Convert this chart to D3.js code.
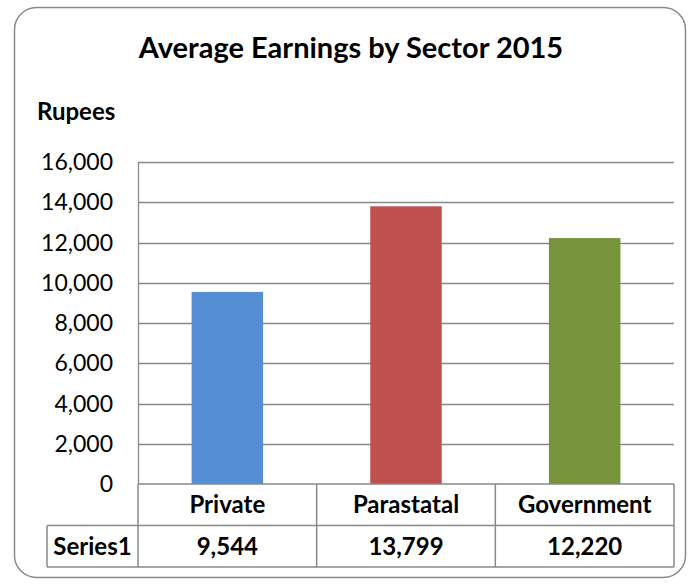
<!DOCTYPE html>
<html>
<head>
<meta charset="utf-8">
<script src="https://cdn.jsdelivr.net/npm/d3@7"></script>
<style>
  html, body { margin: 0; padding: 0; background: #fff; }
  #chart { width: 689px; height: 585px; }
  text { font-family: Lato, "Open Sans", sans-serif; fill: #000; }
</style>
</head>
<body>
<div id="chart"></div>
<script>
// data
const categories = ["Private", "Parastatal", "Government"];
const values = [9544, 13799, 12220];
const seriesName = "Series1";
const barColors = ["#558ED5", "#C0504D", "#77933C"];
const yTicks = [0, 2000, 4000, 6000, 8000, 10000, 12000, 14000, 16000];
const title = "Average Earnings by Sector 2015";
const yTitle = "Rupees";

const width = 689, height = 585;
const plot = { left: 138, right: 674, top: 162, bottom: 484 };
const rowH = 41.5;
const tableLeft = 47;
const lineColor = "#898989";

const svg = d3.select("#chart").append("svg")
  .attr("width", width)
  .attr("height", height);

// outer frame
svg.append("rect")
  .attr("x", 14.5).attr("y", 7.5)
  .attr("width", 671).attr("height", 570)
  .attr("rx", 22).attr("ry", 22)
  .attr("fill", "#fff")
  .attr("stroke", lineColor)
  .attr("stroke-width", 1.5);

// scales
const x = d3.scaleBand()
  .domain(categories)
  .range([plot.left, plot.right]);

const y = d3.scaleLinear()
  .domain([0, 16000])
  .range([plot.bottom, plot.top]);

const color = d3.scaleOrdinal().domain(categories).range(barColors);
const fmt = d3.format(",");

// gridlines
svg.append("g")
  .selectAll("line")
  .data(yTicks.filter(d => d > 0))
  .join("line")
  .attr("x1", plot.left).attr("x2", plot.right)
  .attr("y1", d => Math.round(y(d)) + 0.5)
  .attr("y2", d => Math.round(y(d)) + 0.5)
  .attr("stroke", lineColor)
  .attr("stroke-width", 1.3);

// y axis line
svg.append("line")
  .attr("x1", plot.left + 0.5).attr("x2", plot.left + 0.5)
  .attr("y1", plot.top).attr("y2", plot.bottom)
  .attr("stroke", lineColor)
  .attr("stroke-width", 1.3);

// tick labels
svg.append("g")
  .selectAll("text")
  .data(yTicks)
  .join("text")
  .attr("x", 113)
  .attr("y", d => y(d))
  .attr("dy", "0.35em")
  .attr("text-anchor", "end")
  .style("font-size", "23px")
  .text(d => fmt(d));

// bars
const barW = x.bandwidth() * 0.4;
svg.append("g")
  .selectAll("rect")
  .data(values)
  .join("rect")
  .attr("x", (d, i) => x(categories[i]) + (x.bandwidth() - barW) / 2)
  .attr("y", d => y(d))
  .attr("width", barW)
  .attr("height", d => y(0) - y(d))
  .attr("fill", (d, i) => color(categories[i]));

// data table
const table = svg.append("g")
  .attr("stroke", lineColor)
  .attr("stroke-width", 1.5)
  .attr("fill", "none");

const r0 = plot.bottom, r1 = plot.bottom + rowH, r2 = plot.bottom + 2 * rowH;
// horizontal lines
table.append("line").attr("x1", plot.left).attr("x2", plot.right).attr("y1", r0).attr("y2", r0);
table.append("line").attr("x1", tableLeft).attr("x2", plot.right).attr("y1", r1).attr("y2", r1);
table.append("line").attr("x1", tableLeft).attr("x2", plot.right).attr("y1", r2).attr("y2", r2);
// vertical lines
table.append("line").attr("x1", tableLeft).attr("x2", tableLeft).attr("y1", r1).attr("y2", r2);
table.selectAll(".col")
  .data(categories.map(c => x(c)).concat([plot.right]))
  .join("line")
  .attr("x1", d => d).attr("x2", d => d)
  .attr("y1", r0).attr("y2", r2);

// category labels
svg.append("g")
  .selectAll("text")
  .data(categories)
  .join("text")
  .attr("x", d => x(d) + x.bandwidth() / 2)
  .attr("y", (r0 + r1) / 2)
  .attr("dy", "0.35em")
  .attr("text-anchor", "middle")
  .style("font-size", "24px")
  .style("font-weight", "bold")
  .text(d => d);

// value labels
svg.append("g")
  .selectAll("text")
  .data(values)
  .join("text")
  .attr("x", (d, i) => x(categories[i]) + x.bandwidth() / 2)
  .attr("y", (r1 + r2) / 2)
  .attr("dy", "0.35em")
  .attr("text-anchor", "middle")
  .style("font-size", "24px")
  .style("font-weight", "bold")
  .text(d => fmt(d));

svg.append("text")
  .attr("x", (tableLeft + plot.left) / 2)
  .attr("y", (r1 + r2) / 2)
  .attr("dy", "0.35em")
  .attr("text-anchor", "middle")
  .style("font-size", "24px")
  .style("font-weight", "bold")
  .text(seriesName);

// titles
svg.append("text")
  .attr("x", 351)
  .attr("y", 58)
  .attr("text-anchor", "middle")
  .style("font-size", "29px")
  .style("font-weight", "bold")
  .text(title);

svg.append("text")
  .attr("x", 37)
  .attr("y", 120)
  .style("font-size", "24px")
  .style("font-weight", "bold")
  .text(yTitle);
</script>
</body>
</html>
